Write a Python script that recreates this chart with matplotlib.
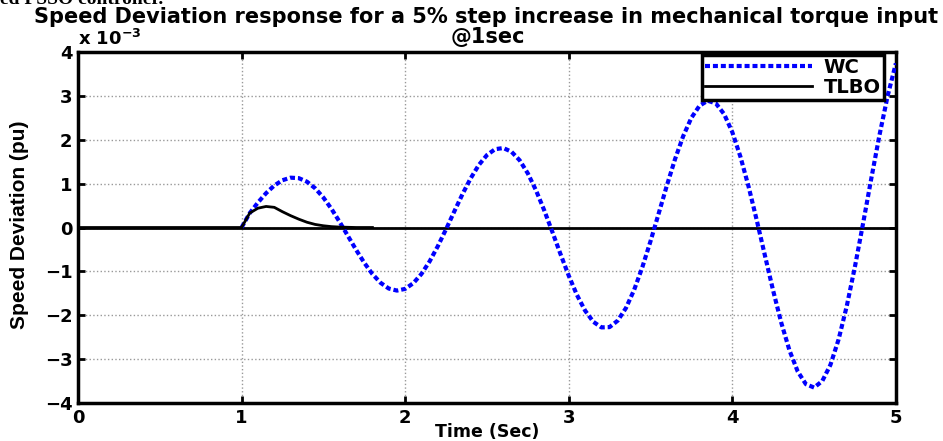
import matplotlib.pyplot as plt
import numpy as np

# WC response (x 1e-3 pu), sampled every 0.05 s from 1.0 s to 5.0 s
wc_time = [round(1.0 + 0.05 * i, 2) for i in range(81)]
wc_values = [
    0.000, 0.328, 0.569, 0.783, 0.957, 1.078, 1.136, 1.125, 1.044, 0.894,
    0.684, 0.423, 0.125, -0.191, -0.507, -0.803, -1.061, -1.261, -1.391, -1.438,
    -1.399, -1.269, -1.057, -0.770, -0.425, -0.040, 0.362, 0.756, 1.117, 1.423,
    1.651, 1.785, 1.812, 1.728, 1.533, 1.234, 0.848, 0.395, -0.100, -0.608,
    -1.096, -1.535, -1.893, -2.148, -2.277, -2.270, -2.121, -1.835, -1.422, -0.906,
    -0.314, 0.319, 0.956, 1.558, 2.084, 2.501, 2.777, 2.890, 2.828, 2.586,
    2.175, 1.612, 0.928, 0.160, -0.645, -1.441, -2.177, -2.805, -3.281, -3.571,
    -3.648, -3.501, -3.131, -2.551, -1.790, -0.890, 0.100, 1.120, 2.108, 3.002,
    3.741,
]

# TLBO response (x 1e-3 pu)
tlbo_time = [0.0, 1.0, 1.05, 1.10, 1.15, 1.20, 1.25, 1.30, 1.35, 1.40, 1.45,
             1.50, 1.55, 1.60, 1.65, 1.70, 1.80]
tlbo_values = [0.0, 0.0, 0.33, 0.44, 0.48, 0.46, 0.36, 0.27, 0.19, 0.12, 0.07,
               0.04, 0.02, 0.01, 0.005, 0.0, 0.0]

x_ticks = [0, 1, 2, 3, 4, 5]
y_ticks = [-4, -3, -2, -1, 0, 1, 2, 3, 4]

plt.rcParams['font.family'] = ['Liberation Sans', 'DejaVu Sans']
plt.rcParams['font.weight'] = 'bold'
wide = ['DejaVu Sans']

fig = plt.figure(figsize=(9.43, 4.41), dpi=100)
ax = fig.add_axes([0.0827, 0.0862, 0.8673, 0.7958])

# zero line (MATLAB draws it in black over the flat part)
ax.axhline(0, color='black', lw=2, zorder=2)
ax.plot(wc_time, wc_values, color='blue', lw=3, ls=(0, (1.2, 0.7)),
        label='WC', zorder=3)
ax.plot(tlbo_time, tlbo_values, color='black', lw=2, label='TLBO', zorder=4)

ax.set_xlim(0, 5)
ax.set_ylim(-4, 4)
ax.set_xticks(x_ticks)
ax.set_yticks(y_ticks)
ax.tick_params(direction='in', length=5, width=2, labelsize=13, pad=4,
               top=True, right=True)
for lbl in ax.get_xticklabels() + ax.get_yticklabels():
    lbl.set_fontweight('bold')
    lbl.set_family(wide)
for s in ax.spines.values():
    s.set_linewidth(2.5)
ax.grid(True, color='#999999', ls=':', lw=1)

fig.text(0.5165, 1 - 432 / 441, 'Time (Sec)', fontsize=12.5, fontweight='bold',
         family=wide, ha='center', va='center')
fig.text(20 / 943, 1 - 225 / 441, 'Speed Deviation (pu)', fontsize=15,
         fontweight='bold', family=['Liberation Sans'], rotation=90,
         ha='center', va='center')

fig.text(0.5155, 1 - 17 / 441,
         'Speed Deviation response for a 5% step increase in mechanical torque input',
         fontsize=15, fontweight='bold', family=wide, ha='center', va='center')
fig.text(0.517, 1 - 37 / 441, '@1sec', fontsize=15, fontweight='bold',
         family=wide, ha='center', va='center')
ax.text(0.0, 1.008, r'x 10$^{\mathbf{-3}}$', transform=ax.transAxes,
        fontsize=13, fontweight='bold', family=wide, ha='left', va='bottom')

fig.text(0.0, 1.0, 'ed PSSO controller.', fontsize=14, fontweight='bold',
         family='Liberation Serif', ha='left', va='center')

leg = ax.legend(loc='upper right', bbox_to_anchor=(0.9853, 0.9915),
                prop={'family': wide, 'weight': 'bold', 'size': 14},
                frameon=True, fancybox=False, handlelength=5.5, borderpad=0.15,
                labelspacing=0.05, borderaxespad=0, handletextpad=0.6)
leg.get_frame().set_edgecolor('black')
leg.get_frame().set_linewidth(2.5)
leg.get_frame().set_alpha(1)

fig.savefig('out.png', dpi=100)
